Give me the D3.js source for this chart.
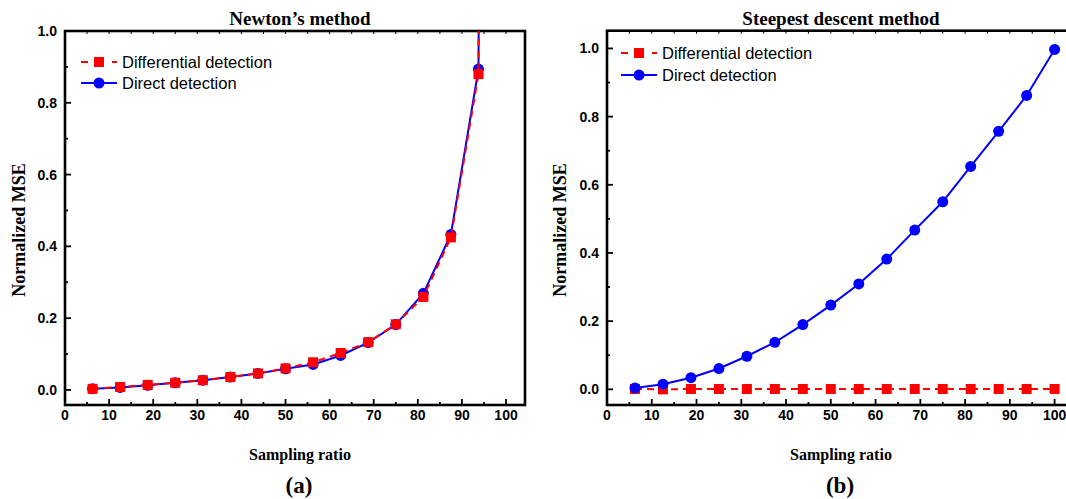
<!DOCTYPE html>
<html><head><meta charset="utf-8">
<script src="https://cdn.jsdelivr.net/npm/d3@7"></script>
<style>
html,body{margin:0;padding:0;background:#fff;}
svg{display:block;}
</style></head>
<body>
<svg id="chart" width="1066" height="499"></svg>
<script>
// ---------------- data ----------------
const samplingRatio = [6.25,12.5,18.75,25,31.25,37.5,43.75,50,56.25,62.5,68.75,75,81.25,87.5,93.75,100];
// (a) Newton's method
const newtonDifferential = [0.003,0.008,0.014,0.020,0.027,0.036,0.046,0.060,0.077,0.103,0.133,0.183,0.259,0.425,0.880,15];
const newtonDirect       = [0.003,0.007,0.013,0.020,0.027,0.036,0.046,0.059,0.071,0.096,0.132,0.182,0.269,0.433,0.894,15];
// (b) Steepest descent method
const steepestDifferential = [0.001,0.000,0.001,0.001,0.001,0.001,0.001,0.001,0.001,0.001,0.001,0.001,0.001,0.001,0.001,0.001];
const steepestDirect       = [0.004,0.015,0.034,0.061,0.097,0.138,0.190,0.247,0.309,0.382,0.467,0.550,0.654,0.757,0.862,0.997];
const xTicks = [0,10,20,30,40,50,60,70,80,90,100];
const yTicks = [0,0.2,0.4,0.6,0.8,1.0];
const seriesNames = ["Differential detection","Direct detection"];
const panelTitles = ["Newton\u2019s method","Steepest descent method"];
const panelLabels = ["(a)","(b)"];
const xLabel = "Sampling ratio";
const yLabel = "Normalized MSE";

const RED = "#ff0000", BLUE = "#0000ff";
const svg = d3.select("#chart");
const sans = "'Liberation Sans', Arial, sans-serif";
const serif = "'Liberation Serif', 'Times New Roman', serif";

function panel(cfg, idx){
  const x = d3.scaleLinear().domain(cfg.xDomain).range(cfg.xRange);
  const y = d3.scaleLinear().domain(cfg.yDomain).range(cfg.yRange);
  const g = svg.append("g");
  const [x0,x1] = cfg.xRange, [yb,yt] = cfg.yRange;

  // clip
  const cid = "clip"+idx;
  svg.append("clipPath").attr("id",cid).append("rect")
    .attr("x",x0).attr("y",yt).attr("width",x1-x0).attr("height",yb-yt);

  // bottom axis ticks (inward)
  const minorX = d3.range(5,cfg.xDomain[1],10);
  g.selectAll(".xmaj").data(xTicks.filter(d=>d>0)).join("line")
    .attr("x1",d=>x(d)).attr("x2",d=>x(d)).attr("y1",yb).attr("y2",yb-6)
    .attr("stroke","#000").attr("stroke-width",1.8);
  g.selectAll(".xmin").data(minorX).join("line")
    .attr("x1",d=>x(d)).attr("x2",d=>x(d)).attr("y1",yb).attr("y2",yb-3)
    .attr("stroke","#000").attr("stroke-width",1.8);
  // top axis ticks
  g.selectAll(".xtop").data(xTicks.filter(d=>d>0).concat(minorX)).join("line")
    .attr("x1",d=>x(d)).attr("x2",d=>x(d)).attr("y1",yt).attr("y2",yt+3)
    .attr("stroke","#000").attr("stroke-width",1);
  g.selectAll(".xlab").data(xTicks).join("text")
    .attr("x",d=>x(d)).attr("y",yb+15).attr("text-anchor","middle")
    .attr("font-family",sans).attr("font-weight","bold").attr("font-size",14)
    .text(d=>d);

  // left axis ticks (inward)
  const minorY = [0.1,0.3,0.5,0.7,0.9].filter(v=>v<cfg.yDomain[1]);
  g.selectAll(".ymaj").data(yTicks).join("line")
    .attr("x1",x0).attr("x2",x0+6).attr("y1",d=>y(d)).attr("y2",d=>y(d))
    .attr("stroke","#000").attr("stroke-width",1.8);
  g.selectAll(".ymin").data(minorY).join("line")
    .attr("x1",x0-1).attr("x2",x0+3).attr("y1",d=>y(d)).attr("y2",d=>y(d))
    .attr("stroke","#000").attr("stroke-width",1.8);
  g.selectAll(".ylab").data(yTicks).join("text")
    .attr("x",x0-8).attr("y",d=>y(d)).attr("dy","0.36em").attr("text-anchor","end")
    .attr("font-family",sans).attr("font-weight","bold").attr("font-size",14)
    .text(d=>d3.format(".1f")(d));

  // frame
  g.append("rect").attr("x",x0).attr("y",yt).attr("width",x1-x0).attr("height",yb-yt)
    .attr("fill","none").attr("stroke","#000").attr("stroke-width",2.6);

  // series
  const line = d3.line().x((d,i)=>x(samplingRatio[i])).y(d=>y(d));
  const plotG = g.append("g").attr("clip-path",`url(#${cid})`);
  function drawRed(vals){
    plotG.append("path").datum(vals).attr("d",line).attr("fill","none")
      .attr("stroke",RED).attr("stroke-width",2).attr("stroke-dasharray","7,5");
    plotG.selectAll(null).data(vals).join("rect")
      .attr("x",(d,i)=>x(samplingRatio[i])-5).attr("y",d=>y(d)-5)
      .attr("width",10).attr("height",10).attr("fill",RED);
  }
  function drawBlue(vals){
    plotG.append("path").datum(vals).attr("d",line).attr("fill","none")
      .attr("stroke",BLUE).attr("stroke-width",2);
    plotG.selectAll(null).data(vals).join("circle")
      .attr("cx",(d,i)=>x(samplingRatio[i])).attr("cy",d=>y(d)).attr("r",5.5)
      .attr("fill",BLUE);
  }
  if(cfg.redOnTop){ drawBlue(cfg.direct); drawRed(cfg.diff); }
  else { drawRed(cfg.diff); drawBlue(cfg.direct); }

  // legend
  const lg = g.append("g");
  const lx = cfg.legend[0], ly = cfg.legend[1], lgap = cfg.legend[2];
  lg.append("line").attr("x1",lx).attr("x2",lx+36).attr("y1",ly).attr("y2",ly)
    .attr("stroke",RED).attr("stroke-width",2).attr("stroke-dasharray","7,8.5");
  lg.append("rect").attr("x",lx+18-5).attr("y",ly-5).attr("width",10).attr("height",10).attr("fill",RED);
  lg.append("line").attr("x1",lx).attr("x2",lx+36).attr("y1",ly+lgap).attr("y2",ly+lgap)
    .attr("stroke",BLUE).attr("stroke-width",2);
  lg.append("circle").attr("cx",lx+18).attr("cy",ly+lgap).attr("r",5.5).attr("fill",BLUE);
  lg.selectAll("text").data(seriesNames).join("text")
    .attr("x",lx+41).attr("y",(d,i)=>ly+i*lgap).attr("dy","0.36em")
    .attr("font-family",sans).attr("font-size",16.5).text(d=>d);

  // titles
  g.append("text").attr("x",cfg.titleX).attr("y",25).attr("text-anchor","middle")
    .attr("font-family",serif).attr("font-weight","bold").attr("font-size",19)
    .text(panelTitles[idx]);
  g.append("text").attr("x",cfg.titleX).attr("y",460).attr("text-anchor","middle")
    .attr("font-family",serif).attr("font-weight","bold").attr("font-size",16)
    .text(xLabel);
  g.append("text").attr("transform",`translate(${cfg.yLabelX},230) rotate(-90)`)
    .attr("text-anchor","middle")
    .attr("font-family",serif).attr("font-weight","bold").attr("font-size",18)
    .text(yLabel);
  g.append("text").attr("x",cfg.panelX).attr("y",493).attr("text-anchor","middle")
    .attr("font-family",serif).attr("font-weight","bold").attr("font-size",23)
    .text(panelLabels[idx]);
}

panel({xDomain:[0,104.3], xRange:[65,525], yDomain:[-0.042,1.0], yRange:[405,31],
  diff:newtonDifferential, direct:newtonDirect, redOnTop:true,
  legend:[81,62,21], titleX:300, yLabelX:25, panelX:299}, 0);
panel({xDomain:[0,105], xRange:[607,1077], yDomain:[-0.046,1.052], yRange:[405,30.7],
  diff:steepestDifferential, direct:steepestDirect, redOnTop:false,
  legend:[621,53,22], titleX:841, yLabelX:566, panelX:840}, 1);
</script>
</body></html>
